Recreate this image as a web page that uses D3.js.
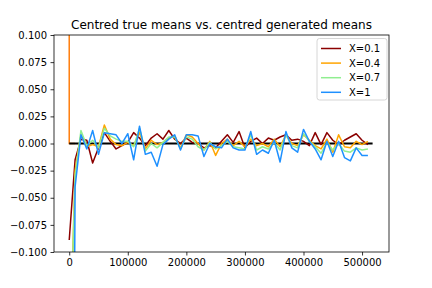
<!DOCTYPE html>
<html>
<head>
<meta charset="utf-8">
<script src="https://cdn.jsdelivr.net/npm/d3@7"></script>
<style>
  body { margin: 0; background: #fff; }
  text { font-family: "DejaVu Sans", sans-serif; fill: #000; }
</style>
</head>
<body>
<div id="chart"></div>
<script>
// Sample positions (one every 10000)
var steps = [0, 10000, 20000, 30000, 40000, 50000, 60000, 70000, 80000, 90000,
  100000, 110000, 120000, 130000, 140000, 150000, 160000, 170000, 180000, 190000,
  200000, 210000, 220000, 230000, 240000, 250000, 260000, 270000, 280000, 290000,
  300000, 310000, 320000, 330000, 340000, 350000, 360000, 370000, 380000, 390000,
  400000, 410000, 420000, 430000, 440000, 450000, 460000, 470000, 480000, 490000,
  500000, 510000];

// Centred differences for each X
var meansX01 = [-0.089, -0.015, 0.004, 0.003, -0.018, -0.004, 0.010, 0.002, -0.005, -0.002,
  0.001, 0.010, 0.005, -0.002, 0.005, 0.009, 0.004, 0.012, 0.004, 0.000,
  0.005, 0.001, 0.000, -0.004, -0.002, -0.004, 0.002, 0.008, 0.001, 0.011,
  -0.004, 0.002, 0.005, 0.000, 0.005, 0.003, 0.006, 0.008, 0.003, 0.004,
  0.002, -0.002, 0.010, -0.001, 0.010, 0.003, -0.001, 0.003, 0.006, 0.009,
  0.003, -0.001];
var meansX04 = [-0.22, -0.025, 0.008, -0.003, -0.001, -0.003, 0.017, 0.004, -0.001, -0.002,
  0.001, -0.002, 0.010, -0.005, 0.003, -0.001, 0.001, 0.005, 0.007, -0.004,
  0.008, 0.006, 0.000, -0.006, 0.002, -0.011, 0.000, 0.004, -0.002, 0.002,
  -0.003, 0.004, -0.002, 0.000, -0.003, 0.004, -0.003, 0.008, 0.000, -0.002,
  0.008, 0.003, -0.002, -0.005, 0.004, -0.008, 0.008, -0.003, -0.004, 0.002,
  -0.001, 0.002];
var meansX07 = [-0.22, -0.030, 0.012, -0.002, 0.003, -0.004, 0.014, 0.007, 0.004, 0.002,
  0.002, -0.003, 0.014, -0.007, 0.000, -0.004, 0.001, 0.006, 0.006, -0.005,
  0.006, 0.004, -0.003, -0.006, 0.001, -0.005, -0.002, 0.002, -0.003, -0.004,
  -0.005, 0.008, -0.006, -0.003, -0.005, 0.001, -0.006, 0.008, -0.002, -0.004,
  0.009, 0.002, -0.003, -0.009, 0.001, -0.006, 0.000, -0.007, -0.008, -0.004,
  -0.006, -0.005];
var meansX1 = [-1.0, -0.040, 0.008, -0.005, 0.012, -0.010, 0.010, 0.009, 0.008, 0.000,
  0.009, -0.015, 0.016, -0.010, -0.008, -0.021, -0.001, 0.004, 0.008, -0.006,
  0.008, 0.008, 0.007, -0.012, 0.000, -0.003, -0.004, 0.004, -0.004, -0.006,
  -0.006, 0.011, -0.010, -0.006, -0.009, 0.003, -0.017, 0.011, -0.004, -0.008,
  0.013, 0.002, -0.005, -0.015, 0.002, -0.012, 0.002, -0.013, -0.016, -0.004,
  -0.011, -0.011];

// Reference lines: the zero baseline and the first-step spike
var zeroX = [0, 518000];
var zeroY = [0, 0];
var spikeX = [0, 0, 10000];
var spikeY = [1.0, 0, 0];

var seriesNames = ["X=0.1", "X=0.4", "X=0.7", "X=1"];
var seriesValues = [meansX01, meansX04, meansX07, meansX1];
var seriesColors = ["#8b0000", "#ffa500", "#90ee90", "#1e90ff"];

var xTicks = [0, 100000, 200000, 300000, 400000, 500000];
var yTicks = [-0.100, -0.075, -0.050, -0.025, 0.000, 0.025, 0.050, 0.075, 0.100];

// SVG area and plot box
var svgWidth = 432;
var svgHeight = 288;
var plot = { left: 54, right: 389, top: 35, bottom: 252 };

var svg = d3.select("#chart")
  .append("svg")
  .attr("width", svgWidth)
  .attr("height", svgHeight);

// scales
var xScale = d3.scaleLinear()
  .domain([-26000, 546000])
  .range([plot.left, plot.right]);

var yScale = d3.scaleLinear()
  .domain([-0.1, 0.1])
  .range([plot.bottom, plot.top]);

svg.append("clipPath")
  .attr("id", "clip")
  .append("rect")
  .attr("x", plot.left)
  .attr("y", plot.top)
  .attr("width", plot.right - plot.left)
  .attr("height", plot.bottom - plot.top);

var lines = svg.append("g").attr("clip-path", "url(#clip)");

var line = d3.line()
  .x(d => xScale(d[0]))
  .y(d => yScale(d[1]));

// spike at the first step (default colour) and zero line
lines.append("path")
  .datum(d3.zip(spikeX, spikeY))
  .attr("d", line)
  .attr("fill", "none")
  .attr("stroke", "#ff7f0e")
  .attr("stroke-width", 1.5);

lines.append("path")
  .datum(d3.zip(zeroX, zeroY))
  .attr("d", line)
  .attr("fill", "none")
  .attr("stroke", "#000")
  .attr("stroke-width", 2);

seriesValues.forEach(function(vals, i) {
  lines.append("path")
    .datum(d3.zip(steps, vals))
    .attr("d", line)
    .attr("fill", "none")
    .attr("stroke", seriesColors[i])
    .attr("stroke-width", 1.5)
    .attr("stroke-linejoin", "round");
});

// axes
var xAxis = d3.axisBottom(xScale)
  .tickValues(xTicks)
  .tickFormat(d3.format("d"))
  .tickSizeOuter(0)
  .tickSize(3.5)
  .tickPadding(3.5);

var yAxis = d3.axisLeft(yScale)
  .tickValues(yTicks)
  .tickFormat(d => d3.format(".3f")(d).replace("-", "\u2212"))
  .tickSizeOuter(0)
  .tickSize(3.5)
  .tickPadding(3.5);

var gx = svg.append("g")
  .attr("transform", `translate(0, ${plot.bottom})`)
  .call(xAxis);

var gy = svg.append("g")
  .attr("transform", `translate(${plot.left}, 0)`)
  .call(yAxis);

[gx, gy].forEach(function(g) {
  g.select(".domain").remove();
  g.selectAll("line").attr("stroke", "#000").attr("stroke-width", 0.8);
  g.selectAll("text")
    .attr("font-size", 10)
    .attr("font-family", "DejaVu Sans, sans-serif")
    .attr("fill", "#000");
});

// frame
svg.append("rect")
  .attr("x", plot.left)
  .attr("y", plot.top)
  .attr("width", plot.right - plot.left)
  .attr("height", plot.bottom - plot.top)
  .attr("fill", "none")
  .attr("stroke", "#000")
  .attr("stroke-width", 0.8);

// title
svg.append("text")
  .attr("x", (plot.left + plot.right) / 2)
  .attr("y", plot.top - 6)
  .attr("text-anchor", "middle")
  .attr("font-size", 12)
  .text("Centred true means vs. centred generated means");

// legend
var legend = svg.append("g");

legend.append("rect")
  .attr("x", 317)
  .attr("y", 38.5)
  .attr("width", 70)
  .attr("height", 61.5)
  .attr("rx", 2.5)
  .attr("fill", "#fff")
  .attr("fill-opacity", 0.8)
  .attr("stroke", "#ccc")
  .attr("stroke-width", 0.8);

seriesNames.forEach(function(name, i) {
  var y = 48.5 + i * 14.6;
  legend.append("line")
    .attr("x1", 321)
    .attr("x2", 341)
    .attr("y1", y)
    .attr("y2", y)
    .attr("stroke", seriesColors[i])
    .attr("stroke-width", 1.5);
  legend.append("text")
    .attr("x", 349)
    .attr("y", y + 3.6)
    .attr("font-size", 10)
    .text(name);
});
</script>
</body>
</html>
